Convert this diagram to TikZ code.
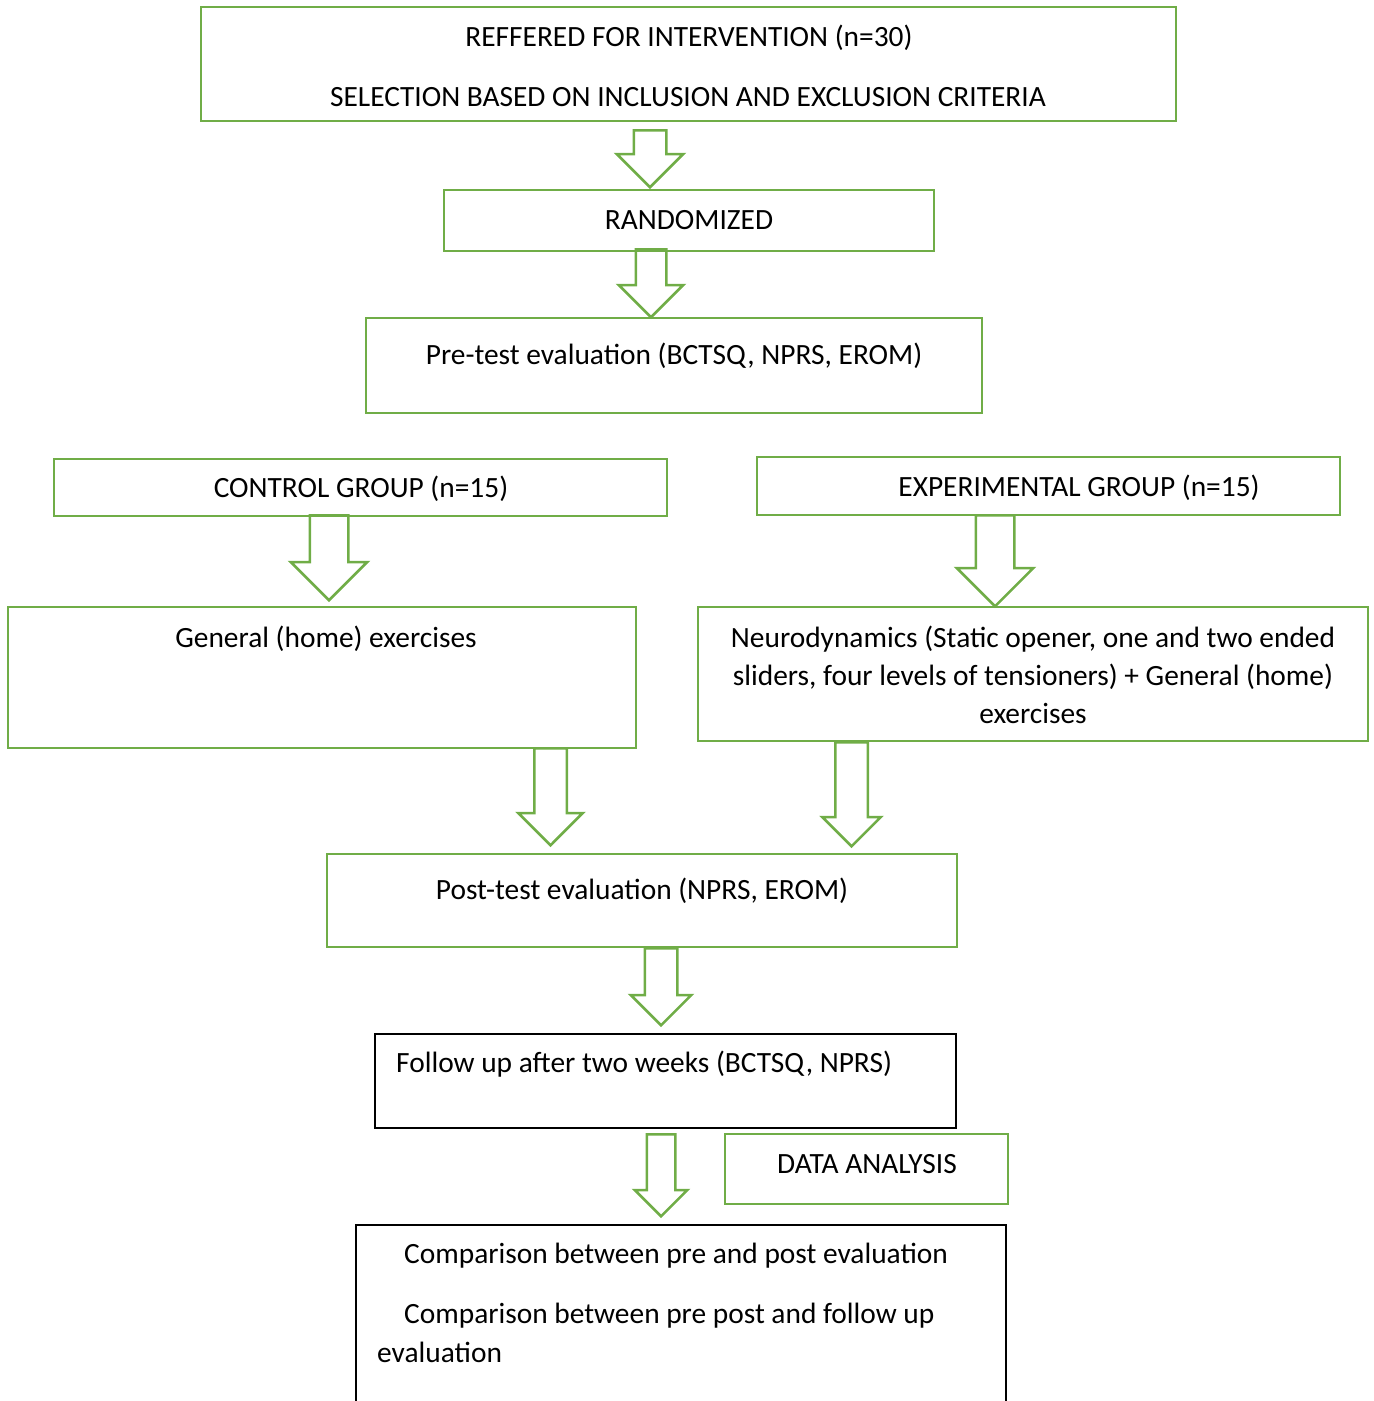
\documentclass[tikz,border=0pt]{standalone}
\usepackage{fontspec}
\setmainfont{Carlito}
\usetikzlibrary{shapes.arrows}
\definecolor{ogreen}{HTML}{70AD47}
\tikzset{
  gbox/.style={draw=ogreen, line width=2.5pt, inner sep=0pt},
  kbox/.style={draw=black, line width=1.3pt, inner sep=0pt},
  txt/.style={anchor=base, inner sep=0pt, font=\fontsize{29.4}{38}\selectfont},
  ltxt/.style={txt, anchor=base west},
  downarrow/.style={single arrow, draw=ogreen, line width=2.5pt, rotate=-90,
    anchor=tail, inner sep=#1, single arrow head extend=17pt},
  downarrow/.default=15pt
}
\begin{document}
\begin{tikzpicture}[x=1pt, y=-1pt]
\useasboundingbox (0,0) rectangle (1374,1401);
\clip (0,0) rectangle (1374,1401);
% boxes
\node[gbox, minimum width=975pt, minimum height=114pt] (referred) at (688.5,64) {};
\node[gbox, minimum width=490pt, minimum height=61pt] (random) at (689,220.5) {};
\node[gbox, minimum width=616pt, minimum height=95pt] (pretest) at (674,365.5) {};
\node[gbox, minimum width=613pt, minimum height=57pt] (control) at (360.5,487.5) {};
\node[gbox, minimum width=583pt, minimum height=58pt] (exper) at (1048.5,486) {};
\node[gbox, minimum width=628pt, minimum height=141pt] (general) at (322,677.5) {};
\node[gbox, minimum width=670pt, minimum height=134pt] (neuro) at (1033,674) {};
\node[gbox, minimum width=630pt, minimum height=93pt] (posttest) at (642,900.5) {};
\node[kbox, minimum width=581pt, minimum height=94pt] (follow) at (665.5,1081) {};
\node[gbox, minimum width=283pt, minimum height=70pt] (analysis) at (866.5,1169) {};
\node[kbox, minimum width=650pt, minimum height=220pt] (compare) at (681,1335) {};
% texts
\node[txt] (t1) at (689,46) {REFFERED FOR INTERVENTION (n=30)};
\node[txt] (t2) at (688,106) {SELECTION BASED ON INCLUSION AND EXCLUSION CRITERIA};
\node[txt] (t3) at (689,229) {RANDOMIZED};
\node[txt] (t4) at (674,364) {Pre-test evaluation (BCTSQ, NPRS, EROM)};
\node[txt] (t5) at (361,497) {CONTROL GROUP (n=15)};
\node[txt] (t6) at (1079,496) {EXPERIMENTAL GROUP (n=15)};
\node[txt] (t7) at (326,647) {General (home) exercises};
\node[txt] (t8) at (1033,647) {Neurodynamics (Static opener, one and two ended};
\node[txt] (t9) at (1033,685) {sliders, four levels of tensioners) + General (home)};
\node[txt] (t10) at (1033,723) {exercises};
\node[txt] (t11) at (642,899) {Post-test evaluation (NPRS, EROM)};
\node[ltxt] (t12) at (396,1072) {Follow up after two weeks (BCTSQ, NPRS)};
\node[txt] (t13) at (867,1173) {DATA ANALYSIS};
\node[ltxt] (t14) at (404,1263) {Comparison between pre and post evaluation};
\node[ltxt] (t15) at (404,1323) {Comparison between pre post and follow up};
\node[ltxt] (t16) at (377,1362) {evaluation};
% block arrows
\node[downarrow, minimum height=57pt] (a1) at (650,129) {};
\node[downarrow=14pt, minimum height=68pt] (a2) at (651,248) {};
\node[downarrow=18pt, minimum height=85pt, single arrow head extend=19pt] (a3) at (329,514) {};
\node[downarrow=18pt, minimum height=91pt, single arrow head extend=19pt] (a4) at (995,514) {};
\node[downarrow, minimum height=97pt, single arrow head extend=16pt] (a5) at (550.5,747) {};
\node[downarrow, minimum height=104pt, single arrow head extend=13pt] (a6) at (851.5,741) {};
\node[downarrow, minimum height=77pt, single arrow head extend=14pt] (a7) at (661,947) {};
\node[downarrow=13pt, minimum height=82pt, single arrow head extend=12pt] (a8) at (661,1133) {};
\end{tikzpicture}
\end{document}
